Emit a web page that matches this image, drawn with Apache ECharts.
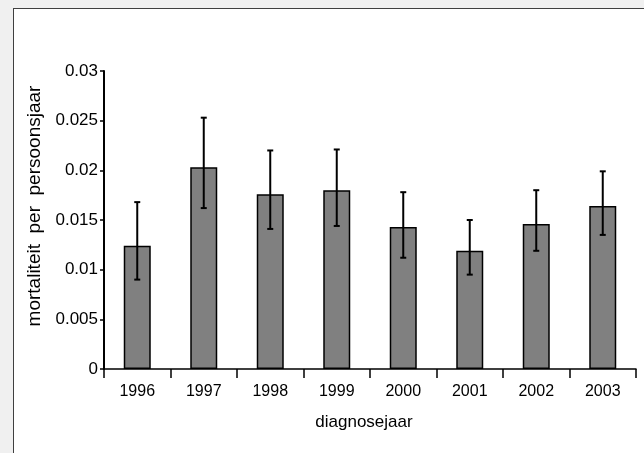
<!DOCTYPE html>
<html>
<head>
<meta charset="utf-8">
<script src="https://cdn.jsdelivr.net/npm/echarts@6/dist/echarts.min.js"></script>
<style>
  html, body { margin: 0; padding: 0; background: #f0f0f0; }
  #frame { position: absolute; left: 13px; top: 8px; width: 640px; height: 460px;
           background: #ffffff; border: 1.5px solid #404040; box-sizing: border-box; }
  #chart { position: absolute; left: 0; top: 0; width: 644px; height: 453px; }
</style>
</head>
<body>
<div id="frame"></div>
<div id="chart"></div>
<script>
// Mortality per person-year by year of diagnosis, with confidence intervals
const years = ['1996', '1997', '1998', '1999', '2000', '2001', '2002', '2003'];
const mortality = [0.0124, 0.0203, 0.0176, 0.0180, 0.0143, 0.0119, 0.0146, 0.0164];
const ciLower = [0.0090, 0.0162, 0.0141, 0.0144, 0.0112, 0.0095, 0.0119, 0.0135];
const ciUpper = [0.0168, 0.0253, 0.0220, 0.0221, 0.0178, 0.0150, 0.0180, 0.0199];
const yTicks = [0, 0.005, 0.01, 0.015, 0.02, 0.025, 0.03];

const chart = echarts.init(document.getElementById('chart'), null, { renderer: 'canvas' });

const errorData = years.map((y, i) => [i, ciLower[i], ciUpper[i]]);

chart.setOption({
  backgroundColor: 'transparent',
  animation: false,
  textStyle: { fontFamily: 'Liberation Sans, Arial, sans-serif' },
  grid: { left: 104, top: 71, right: 8, bottom: 84 },
  xAxis: {
    type: 'category',
    data: years,
    name: 'diagnosejaar',
    nameLocation: 'middle',
    nameGap: 45,
    nameTextStyle: { fontSize: 17, color: '#000', padding: [0, 12, 0, 0] },
    axisLine: { lineStyle: { color: '#000', width: 1.5 } },
    axisTick: { show: true, length: 9, lineStyle: { color: '#000', width: 1.5 } },
    axisLabel: { fontSize: 16, color: '#000', margin: 15 },
    splitLine: { show: false }
  },
  yAxis: {
    type: 'value',
    min: yTicks[0],
    max: yTicks[yTicks.length - 1],
    interval: 0.005,
    name: 'mortaliteit  per  persoonsjaar',
    nameLocation: 'middle',
    nameGap: 52,
    nameTextStyle: { fontSize: 19, color: '#000', padding: [0, 0, 0, 28] },
    axisLine: { show: true, lineStyle: { color: '#000', width: 2 } },
    axisTick: { show: true, length: 4, lineStyle: { color: '#000', width: 1.5 } },
    axisLabel: { fontSize: 17, color: '#000', margin: 6,
                 formatter: v => String(parseFloat(v.toFixed(4))) },
    splitLine: { show: false }
  },
  series: [
    {
      type: 'bar',
      data: mortality,
      barWidth: 27,
      itemStyle: { color: '#808080', borderColor: '#000', borderWidth: 1.5 }
    },
    {
      type: 'custom',
      data: errorData,
      z: 10,
      renderItem: function (params, api) {
        const x = api.value(0);
        const lo = api.coord([x, api.value(1)]);
        const hi = api.coord([x, api.value(2)]);
        const cap = 3;
        const style = { stroke: '#000', lineWidth: 2 };
        return {
          type: 'group',
          children: [
            { type: 'line', shape: { x1: hi[0], y1: hi[1], x2: lo[0], y2: lo[1] }, style },
            { type: 'line', shape: { x1: hi[0] - cap, y1: hi[1], x2: hi[0] + cap, y2: hi[1] }, style },
            { type: 'line', shape: { x1: lo[0] - cap, y1: lo[1], x2: lo[0] + cap, y2: lo[1] }, style }
          ]
        };
      }
    }
  ]
});
</script>
</body>
</html>
